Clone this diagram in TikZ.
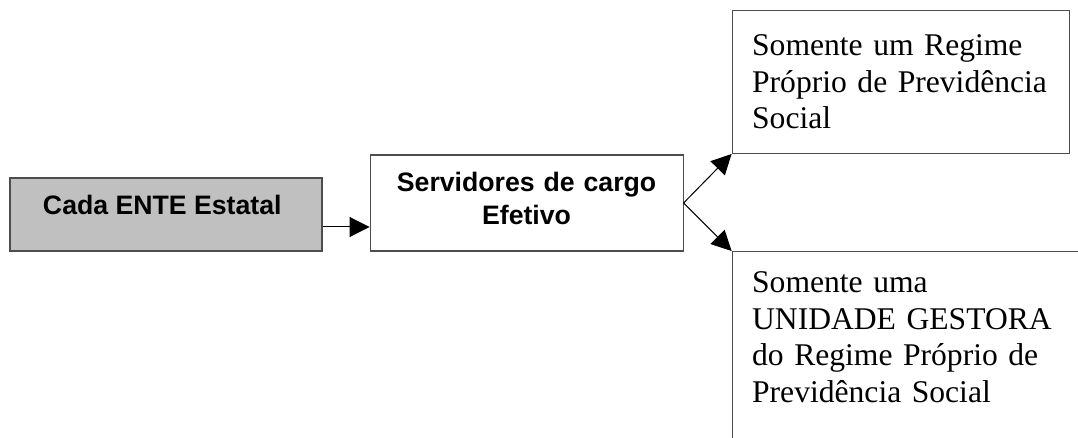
\documentclass[tikz,border=0pt]{standalone}
\usepackage{fontspec}
\setmainfont{Liberation Serif}
\newfontfamily\arialfont{Liberation Sans}
\usepackage{xcolor}
\usepackage{tikz}
\usetikzlibrary{
  arrows.meta,
  positioning
}
\definecolor{BoxGray}{HTML}{C0C0C0}
\definecolor{EdgeGray}{HTML}{4D4D4D}
\tikzset{
  box/.style={
    draw=EdgeGray,
    line width=0.8pt,
    align=center,
    font=\arialfont\bfseries\fontsize{20}{24.5}\selectfont
  },
  entebox/.style={
    box,
    fill=BoxGray,
    text depth=15pt,
    minimum width=234pt,
    minimum height=54.75pt
  },
  cargobox/.style={
    box,
    fill=white,
    text width=220pt,
    text depth=31pt,
    minimum width=234.75pt,
    minimum height=72pt
  },
  textbox/.style={
    draw=EdgeGray,
    line width=0.8pt,
    align=left,
    inner sep=15pt,
    font=\fontsize{23.7}{27.5}\selectfont
  },
  connection/.style={
    -{Triangle[length=15pt,width=15pt]},
    line width=0.75pt
  }
}
\begin{document}
\begin{tikzpicture}

  \useasboundingbox (0,0) rectangle (808.5pt,-328.5pt);
  \clip (0,0) rectangle (808.5pt,-328.5pt);

  \node[
    entebox
  ] (ente) at (124.5pt,-160.875pt) {
    Cada ENTE Estatal
  };

  \node[
    cargobox,
    right=35.25pt of ente,
    yshift=8.625pt
  ] (servidores) {
    Servidores de cargo\\Efetivo
  };

  \node[
    textbox,
    above right=36.75pt and 36pt of servidores.east,
    text width=222.75pt,
    minimum width=252.75pt,
    minimum height=107.25pt
  ] (regime) {
    Somente um Regime\\Próprio de Previdência\\Social
  };

  \node[
    textbox,
    below right=36pt and 36pt of servidores.east,
    text width=240pt,
    text depth=110pt,
    minimum width=270pt,
    minimum height=150pt
  ] (unidade) {
    Somente uma\\UNIDADE GESTORA\\do Regime Próprio de\\Previdência Social
  };

  \draw[connection]
  ([yshift=-9.375pt]ente.east) --
  ([yshift=-9.375pt]ente.east -| servidores.west);

  \draw[connection]
  (servidores.east) --
  (regime.south west);

  \draw[connection]
  (servidores.east) --
  (unidade.north west);

\end{tikzpicture}
\end{document}
